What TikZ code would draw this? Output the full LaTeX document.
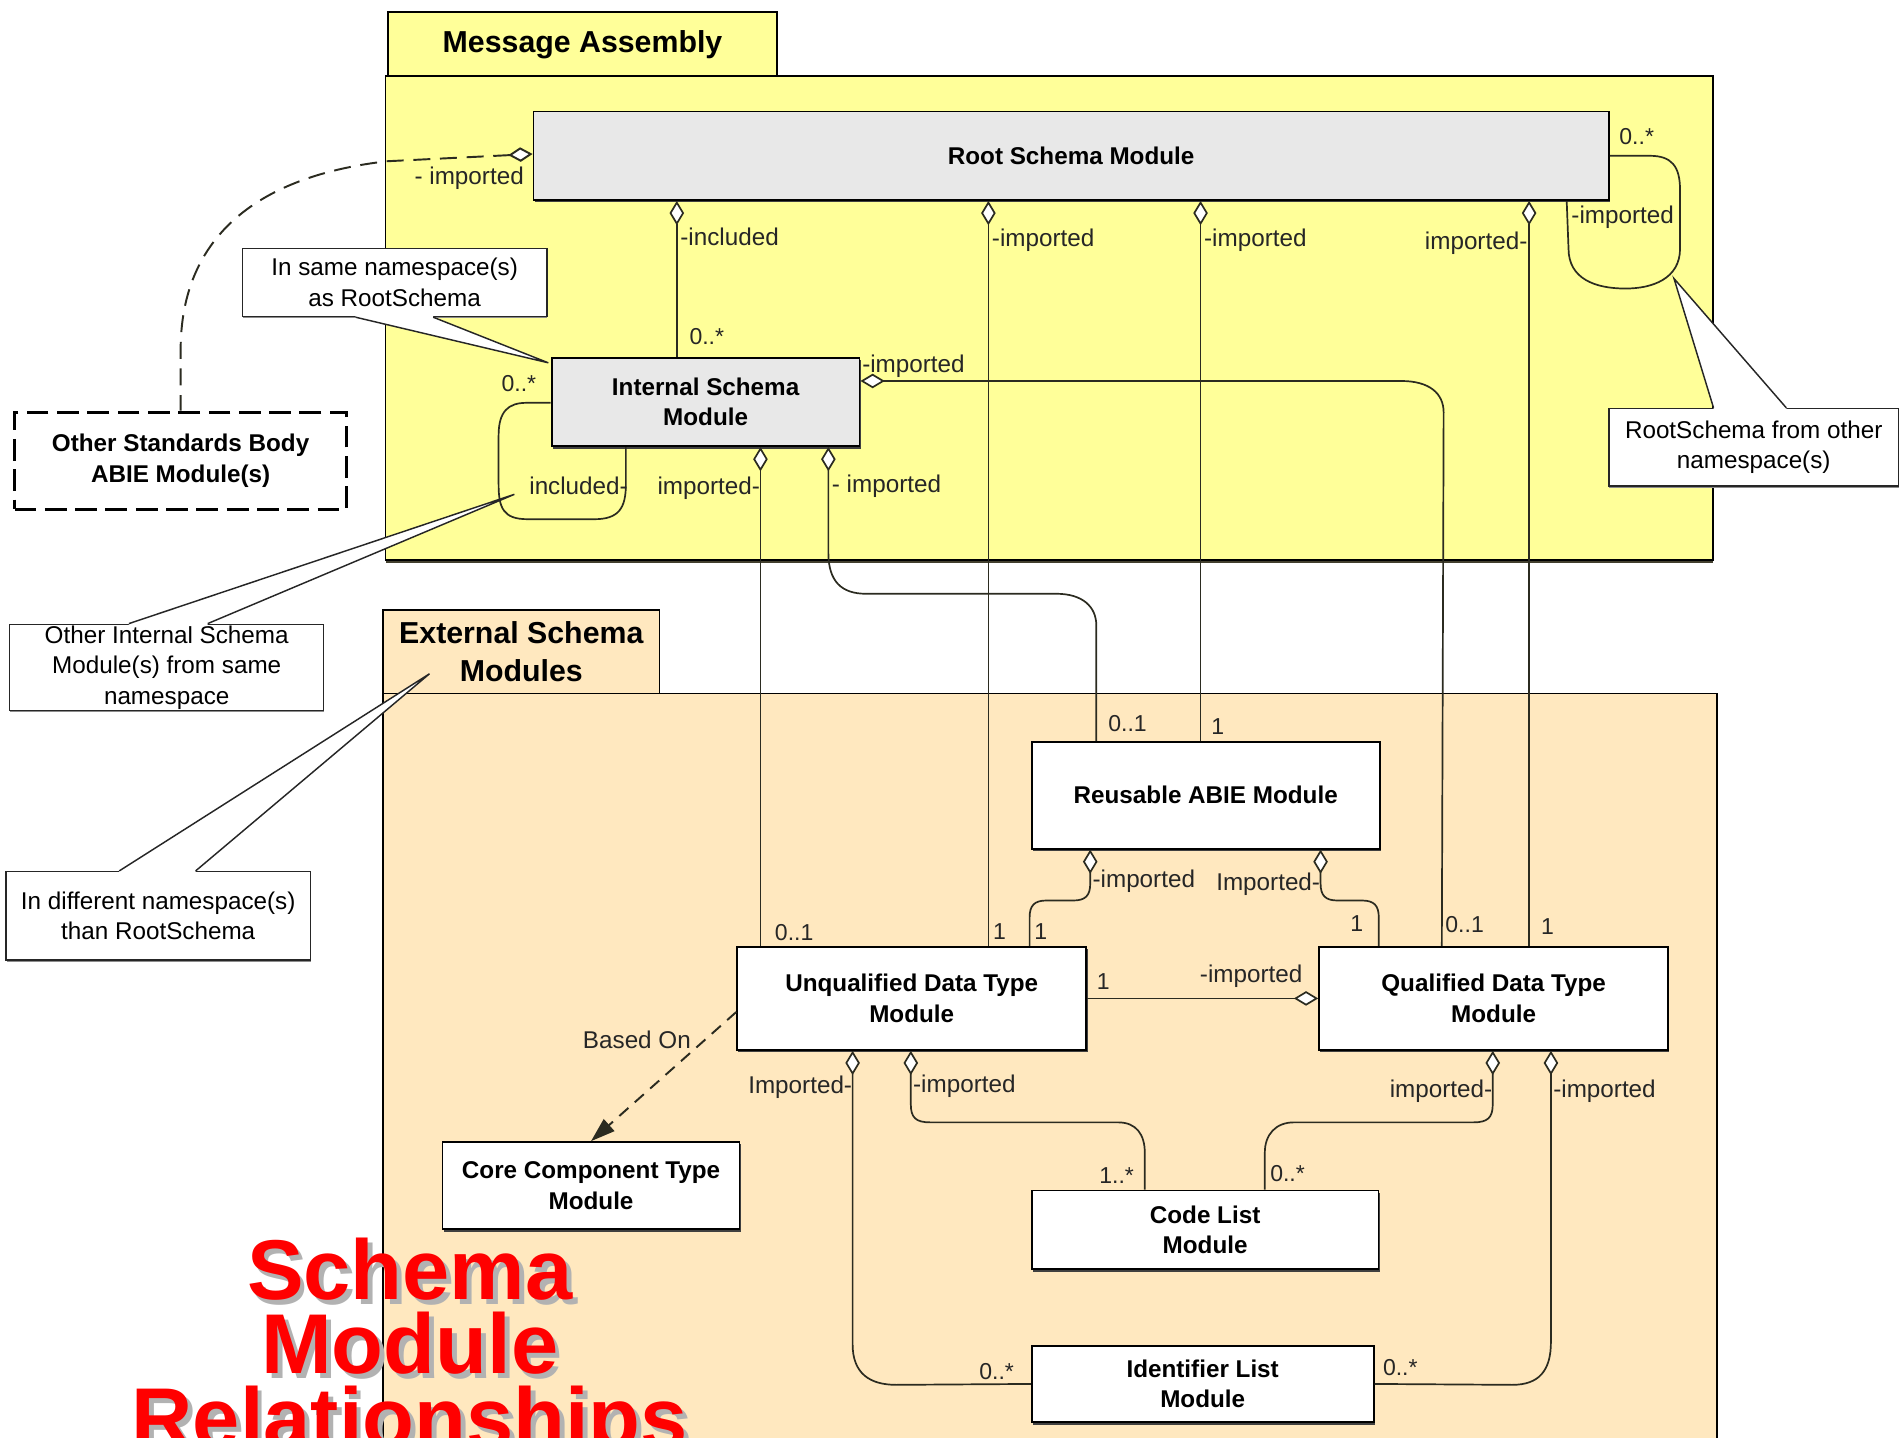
\documentclass[tikz,border=0pt]{standalone}
\usepackage{fontspec}
\setmainfont{Liberation Sans}
\usetikzlibrary{arrows.meta,shadows,calc}

\definecolor{asmyellow}{HTML}{FFFF99}
\definecolor{extpeach}{HTML}{FFE8BF}
\definecolor{modgray}{HTML}{E8E8E8}
\definecolor{titlered}{HTML}{FF0000}
\definecolor{linedark}{HTML}{2B2B20}

\tikzset{
  container/.style={draw=black, line width=1.5pt, inner sep=0pt, align=center,
    font=\fontsize{25}{31}\selectfont\bfseries},
  module/.style={draw=black, line width=1.5pt, fill=white, inner sep=0pt, align=center,
    font=\fontsize{20}{25}\selectfont\bfseries,
    drop shadow={shadow xshift=1pt, shadow yshift=-2pt, fill=black!75, opacity=1}},
  notebox/.style={draw=black!85, line width=1.3pt, fill=white, inner sep=0pt, align=center,
    font=\fontsize{20}{25}\selectfont,
    drop shadow={shadow xshift=0.5pt, shadow yshift=-1.5pt, fill=black!45, opacity=1}},
  role/.style={inner sep=0pt, text=black!85, font=\fontsize{20}{24}\selectfont},
  mult/.style={inner sep=0pt, text=black!85, font=\fontsize{19}{22}\selectfont},
  conn/.style={draw=linedark, line width=1.4pt},
  agg/.style={conn, {Diamond[fill=white, length=20pt, width=12pt]}-},
  aggend/.style={conn, -{Diamond[fill=white, length=20pt, width=12pt]}},
  wedge/.style={draw=black!85, line width=1.2pt},
  titletext/.style={anchor=north, inner sep=0pt, align=center,
    font=\fontsize{70}{61}\selectfont\bfseries},
}

\begin{document}
\begin{tikzpicture}[x=1pt, y=-1pt]
\useasboundingbox (0,0) rectangle (1568,1186);

% ---- package areas ----
\node[container, fill=asmyellow, minimum width=1095pt, minimum height=399pt,
      drop shadow={shadow xshift=0pt, shadow yshift=-2pt, fill=black!70!olive, opacity=1}]
      (asmbody) at (865.5,262.5) {};
\node[container, fill=asmyellow, minimum width=321pt, minimum height=53pt]
      (asmtab) at (480.5,36.5) {Message Assembly};
\node[container, fill=extpeach, minimum width=1100pt, minimum height=640pt]
      (extbody) at (866,892) {};
\node[container, fill=extpeach, minimum width=228pt, minimum height=69pt]
      (exttab) at (430,537.5) {External Schema\\Modules};

% ---- modules ----
\node[module, fill=modgray, minimum width=887pt, minimum height=73pt]
      (root) at (883.5,128.5) {Root Schema Module};
\node[module, fill=modgray, minimum width=254pt, minimum height=73pt]
      (isn) at (582,331.5) {Internal Schema\\Module};
\node[draw=black, line width=2.5pt, dash pattern=on 18pt off 7pt, fill=white,
      inner sep=0pt, align=center, font=\fontsize{20}{25}\selectfont\bfseries,
      minimum width=274pt, minimum height=80pt]
      (osb) at (149,380) {Other Standards Body\\ABIE Module(s)};
\node[module, minimum width=287pt, minimum height=88pt]
      (rab) at (994.5,656) {Reusable ABIE Module};
\node[module, minimum width=288pt, minimum height=85pt]
      (udt) at (752,823.5) {Unqualified Data Type\\Module};
\node[module, minimum width=288pt, minimum height=85pt]
      (qdt) at (1232,823.5) {Qualified Data Type\\Module};
\node[module, minimum width=245pt, minimum height=72pt]
      (cct) at (487.5,978) {Core Component Type\\Module};
\node[module, minimum width=286pt, minimum height=65pt]
      (clm) at (994,1014.5) {Code List\\Module};
\node[module, minimum width=282pt, minimum height=63pt]
      (ilm) at (992,1141.5) {Identifier List\\Module};

% ---- associations from the root schema ----
\draw[agg] ($(root.south west)+(119,0)$) coordinate (r1) -- (r1 |- isn.north);
\draw[agg] ($(root.south west)+(376,0)$) coordinate (r2) -- (r2 |- udt.north);
\draw[agg] ($(root.south west)+(551,0)$) coordinate (r3) -- (r3 |- rab.north);
\draw[agg] ($(root.south west)+(822,0)$) coordinate (r4) -- (r4 |- qdt.north);
\draw[conn] (root.east) -- ++(33,0)
      .. controls +(18,0) and +(0,-20) .. ++(25,28.5) -- ++(0,48)
      .. controls +(0,25) and +(22,0) .. ++(-45,33)
      .. controls +(-25,0) and +(0,25) .. ++(-47,-33)
      -- ($(root.south west)+(853,0)$);
\draw[agg, dash pattern=on 14pt off 8pt, line width=1.6pt]
      ($(root.west)+(0,-1.5)$) -- ++(-120,6)
      .. controls +(-105,12) and +(0,-95) .. ($(osb.north)+(0,-50)$) -- (osb.north);

% ---- associations from the internal schema ----
\draw[conn] ($(isn.north west)+(0,38)$) -- ++(-20,0)
      .. controls +(-15,0) and +(0,-20) .. ++(-23,27) -- ++(0,40)
      .. controls +(0,20) and +(-20,0) .. ++(24,29) -- ++(55,0)
      .. controls +(20,0) and +(0,20) .. ++(26,-29)
      -- ($(isn.south west)+(62,0)$);
\draw[agg] ($(isn.north east)+(0,20)$) -- ++(446,0)
      .. controls +(23,0) and +(0,-16) .. ++(35,26)
      -- ($(qdt.north west)+(102,0)$);
\draw[agg] ($(isn.south west)+(173,0)$) coordinate (i1) -- (i1 |- udt.north);
\draw[agg] ($(isn.south west)+(229,0)$) -- ++(0,87)
      .. controls +(0,24) and +(-20,0) .. ++(31,34) -- ++(157,0)
      .. controls +(22,0) and +(0,-15) .. ++(33,26)
      -- ($(rab.north west)+(54,0)$);

% ---- associations among the external modules ----
\draw[agg] ($(rab.south west)+(49,0)$) -- ++(0,28)
      .. controls +(0,10) and +(10,0) .. ++(-14,14) -- ++(-22,0)
      .. controls +(-10,0) and +(0,-10) .. ++(-14,14)
      -- ($(udt.north west)+(242,0)$);
\draw[agg] ($(rab.south west)+(239,0)$) -- ++(0,28)
      .. controls +(0,10) and +(-10,0) .. ++(14,14) -- ++(20,0)
      .. controls +(10,0) and +(0,-10) .. ++(14,14)
      -- ($(qdt.north west)+(50,0)$);
\draw[aggend] (udt.east) -- (qdt.west);
\draw[conn, dash pattern=on 10pt off 7pt, line width=1.6pt,
      -{Triangle[length=20pt, width=13pt]}]
      ($(udt.south west)+(0,-32)$) -- (cct.north);
\draw[agg] ($(udt.south west)+(96,0)$) -- ++(0,242)
      .. controls +(0,24) and +(-22,0) .. ++(36,33.5) -- (ilm.west);
\draw[agg] ($(udt.south west)+(144,0)$) -- ++(0,44)
      .. controls +(0,11) and +(-12,0) .. ++(16,15) -- ++(155,0)
      .. controls +(15,0) and +(0,-15) .. ++(22,25)
      -- ($(clm.north west)+(94,0)$);
\draw[agg] ($(qdt.south west)+(144,0)$) -- ++(0,44)
      .. controls +(0,11) and +(12,0) .. ++(-16,15) -- ++(-148,0)
      .. controls +(-15,0) and +(0,-15) .. ++(-24,25)
      -- ($(clm.north west)+(193,0)$);
\draw[agg] ($(qdt.south west)+(192,0)$) -- ++(0,240)
      .. controls +(0,24) and +(22,0) .. ++(-32,35.5) -- (ilm.east);

% ---- role names and multiplicities ----
\node[role] (lb1) at (387,147) {- imported};
\node[role, anchor=west] (lb2) at (561,195) {-included};
\node[mult] (lb3) at (583,278) {0..*};
\node[role, anchor=west] (lb4) at (818,198) {-imported};
\node[role, anchor=west] (lb5) at (993,198) {-imported};
\node[role, anchor=east] (lb6) at (1260,201) {imported-};
\node[mult] (lb7) at (1350,113) {0..*};
\node[role, anchor=west] (lb8) at (1296,179) {-imported};
\node[mult] (lb9) at (428,316) {0..*};
\node[role, anchor=west] (lb10) at (711,302) {-imported};
\node[role, anchor=east] (lb11) at (518,401) {included-};
\node[role, anchor=east] (lb12) at (627,403) {imported-};
\node[role, anchor=west] (lb13) at (686,401) {- imported};
\node[mult, anchor=west] (lb14) at (639,769) {0..1};
\node[mult, anchor=west] (lb15) at (819,768) {1};
\node[mult, anchor=west] (lb16) at (853,768) {1};
\node[mult, anchor=west] (lb17) at (914,597) {0..1};
\node[mult, anchor=west] (lb18) at (999,599) {1};
\node[role, anchor=west] (lb19) at (901,727) {-imported};
\node[role, anchor=east] (lb20) at (1089,729) {Imported-};
\node[mult] (lb21) at (1119,762) {1};
\node[mult, anchor=west] (lb22) at (1192,763) {0..1};
\node[mult, anchor=west] (lb23) at (1271,764) {1};
\node[mult] (lb24) at (910,810) {1};
\node[role] (lb25) at (1032,805) {-imported};
\node[role, anchor=east] (lb26) at (570,858) {Based On};
\node[role, anchor=east] (lb27) at (703,897) {Imported-};
\node[role, anchor=west] (lb28) at (753,896) {-imported};
\node[role, anchor=east] (lb29) at (1231,900) {imported-};
\node[role, anchor=west] (lb30) at (1281,900) {-imported};
\node[mult] (lb31) at (921,970) {1..*};
\node[mult] (lb32) at (1062,968) {0..*};
\node[mult] (lb33) at (822,1131) {0..*};
\node[mult] (lb34) at (1155,1128) {0..*};

% ---- notes with their callout wedges ----
\node[notebox, minimum width=251pt, minimum height=56pt]
      (n1) at (325.5,233) {In same namespace(s)\\as RootSchema};
\node[notebox, minimum width=239pt, minimum height=64pt]
      (n2) at (1446.5,369) {RootSchema from other\\namespace(s)};
\node[notebox, minimum width=259pt, minimum height=71pt]
      (n3) at (137.5,550.5) {Other Internal Schema\\Module(s) from same\\namespace};
\node[notebox, minimum width=251pt, minimum height=73pt]
      (n4) at (130.5,755.5) {In different namespace(s)\\than RootSchema};

\coordinate (t1) at ($(isn.north west)+(-2,5)$);
\coordinate (b1a) at ($(n1.south west)+(94,0)$);
\coordinate (b1b) at ($(n1.south west)+(158,0)$);
\fill[white] ($(b1a)+(0,-2)$) -- (b1a) -- (t1) -- (b1b) -- ($(b1b)+(0,-2)$) -- cycle;
\draw[wedge] (b1a) -- (t1) -- (b1b);

\coordinate (t2) at ($(root.south east)+(53,64)$);
\coordinate (b2a) at ($(n2.north west)+(87,0)$);
\coordinate (b2b) at ($(n2.north west)+(147,0)$);
\fill[white] ($(b2a)+(0,2)$) -- (b2a) -- (t2) -- (b2b) -- ($(b2b)+(0,2)$) -- cycle;
\draw[wedge] (b2a) -- (t2) -- (b2b);

\coordinate (t3) at ($(isn.south west)+(-30,39)$);
\coordinate (b3a) at ($(n3.north west)+(99,0)$);
\coordinate (b3b) at ($(n3.north west)+(164,0)$);
\fill[white] ($(b3a)+(0,2)$) -- (b3a) -- (t3) -- (b3b) -- ($(b3b)+(0,2)$) -- cycle;
\draw[wedge] (b3a) -- (t3) -- (b3b);

\coordinate (t4) at ($(exttab.south west)+(39,-17)$);
\coordinate (b4a) at ($(n4.north west)+(94,0)$);
\coordinate (b4b) at ($(n4.north west)+(157,0)$);
\fill[white] ($(b4a)+(0,2)$) -- (b4a) -- (t4) -- (b4b) -- ($(b4b)+(0,2)$) -- cycle;
\draw[wedge] (b4a) -- (t4) -- (b4b);

% ---- title ----
\node[titletext, text=black!30] (titleshadow) at (342,1025) {Schema\\Module\\Relationships};
\node[titletext, text=titlered] (title) at (338,1021) {Schema\\Module\\Relationships};
\end{tikzpicture}
\end{document}
